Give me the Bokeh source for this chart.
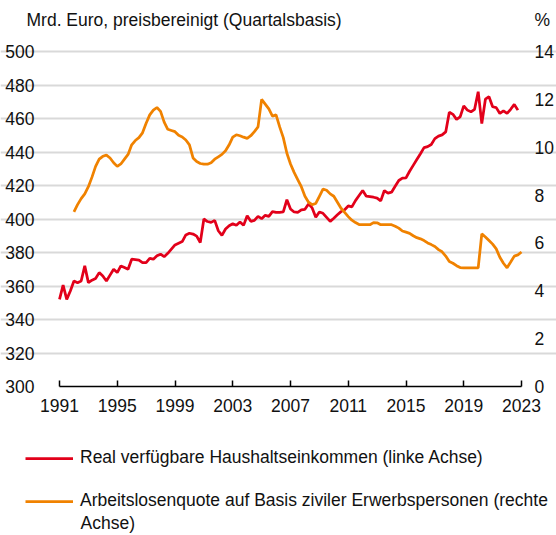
from bokeh.plotting import figure
from bokeh.models import (LinearAxis, Range1d, FixedTicker, Label, Legend, LegendItem)
from bokeh.embed import file_html
from bokeh.resources import INLINE

# ---- data ----
income_start_year = 1991  # quarterly, first quarter of 1991
income = [352, 360.5, 352, 357, 363, 362, 363, 372, 362, 363.5, 364.5, 368,
          366, 363, 366.5, 370, 368, 372, 371, 370, 376, 375.8, 375.5, 374,
          374, 376.5, 376, 378, 379, 377.5, 379.5, 382, 384.5, 385.5, 386.5, 390.5,
          391.5, 391, 389.8, 386, 400, 398.5, 398, 399.2, 393, 390.2, 394, 396,
          397.2, 396.2, 398.2, 396.2, 402, 398.6, 399.2, 401.6, 400.2, 402.2, 401.6, 404.4,
          404, 404, 404.2, 411.5, 406, 404.2, 404, 405.5, 405.8, 409, 406.6, 401,
          404.2, 403.4, 401, 398.6, 400.5, 402.5, 404.4, 405.5, 407.8, 407.2, 411, 414,
          417, 413.6, 413.4, 413, 412.5, 410.8, 417, 415.5, 416, 419.5, 423, 424.4,
          424.6, 428.5, 432, 435.5, 439, 442.6, 443.2, 444.5, 448, 449.5, 450.2, 452,
          463.8, 462.5, 459.5, 461, 467.5, 465, 464, 465.5, 476, 457, 471.5, 473,
          467, 466.5, 463, 464.5, 463, 465.5, 468.4, 465]

unemp_start_year = 1992  # quarterly, first quarter of 1992
unemployment = [7.3, 7.6, 7.85, 8.05, 8.35, 8.75, 9.2, 9.5, 9.62, 9.67, 9.55, 9.35,
                9.2, 9.3, 9.5, 9.7, 10.1, 10.28, 10.4, 10.6, 11.0, 11.35, 11.55, 11.66,
                11.5, 11.05, 10.75, 10.7, 10.65, 10.5, 10.43, 10.3, 10.1, 9.55, 9.4, 9.32,
                9.29, 9.29, 9.35, 9.5, 9.6, 9.7, 9.85, 10.1, 10.42, 10.52, 10.48, 10.42,
                10.37, 10.48, 10.65, 10.85, 12.0, 11.8, 11.6, 11.3, 11.35, 10.85, 10.4, 9.75,
                9.3, 8.95, 8.65, 8.35, 7.95, 7.7, 7.6, 7.65, 7.95, 8.25, 8.2, 8.05,
                7.95, 7.7, 7.45, 7.28, 7.1, 6.95, 6.85, 6.77, 6.76, 6.76, 6.76, 6.85,
                6.84, 6.76, 6.76, 6.76, 6.76, 6.7, 6.62, 6.5, 6.45, 6.4, 6.3, 6.22,
                6.17, 6.1, 6.0, 5.93, 5.85, 5.72, 5.63, 5.45, 5.22, 5.15, 5.05, 4.97,
                4.96, 4.96, 4.96, 4.96, 4.96, 6.38, 6.25, 6.1, 5.95, 5.75, 5.4, 5.15,
                4.96, 5.2, 5.45, 5.5, 5.62]

x_ticks = [1991, 1995, 1999, 2003, 2007, 2011, 2015, 2019, 2023]
left_ticks = [300, 320, 340, 360, 380, 400, 420, 440, 460, 480, 500]
right_ticks = [0, 2, 4, 6, 8, 10, 12, 14]

title_left = "Mrd. Euro, preisbereinigt (Quartalsbasis)"
title_right = "%"
label_income = "Real verfügbare Haushaltseinkommen (linke Achse)"
label_unemp_1 = "Arbeitslosenquote auf Basis ziviler Erwerbspersonen (rechte"
label_unemp_2 = "Achse)"

# ---- style / layout constants ----
RED = "#e2001a"
ORANGE = "#f08200"
FONT = "Liberation Sans"
FS = "17.5px"
TXT = "#111111"
W, H = 556, 535
PX_L, PX_R = 59, 521      # plot area left / right (canvas px)
PY_T, PY_B = 51, 386      # plot area top / bottom (canvas px, from top)

X0, X1 = x_ticks[0], x_ticks[-1]
L0, L1 = left_ticks[0], left_ticks[-1]
R0, R1 = right_ticks[0], right_ticks[-1]
xu = (X1 - X0) / (PX_R - PX_L)
lu = (L1 - L0) / (PY_B - PY_T)
ru = (R1 - R0) / (PY_B - PY_T)

p = figure(width=W, height=H, output_backend="svg", toolbar_location=None,
           x_range=Range1d(X0 - PX_L * xu, X1 + (W - PX_R) * xu),
           y_range=Range1d(L0 - (H - PY_B) * lu, L1 + PY_T * lu),
           min_border_left=0, min_border_right=0, min_border_top=0,
           min_border_bottom=0, y_axis_location=None, x_axis_location=None)
p.outline_line_color = None
p.background_fill_color = "white"
p.border_fill_color = "white"
p.extra_y_ranges = {"pct": Range1d(R0 - (H - PY_B) * ru, R1 + PY_T * ru)}

xa = LinearAxis(ticker=FixedTicker(ticks=x_ticks), fixed_location=L0, bounds=(X0, X1))
xa.axis_line_color = "black"
xa.axis_line_width = 1.5
xa.major_tick_in = 6
xa.major_tick_out = 0
xa.major_tick_line_color = "black"
xa.major_tick_line_width = 1.5
xa.minor_tick_line_color = None
xa.major_label_standoff = 12
xa.major_label_text_font = FONT
xa.major_label_text_font_size = FS
xa.major_label_text_color = TXT
p.add_layout(xa, "below")

ya = LinearAxis(ticker=FixedTicker(ticks=left_ticks), fixed_location=X0, bounds=(L0, L1))
ya.axis_line_color = None
ya.major_tick_line_color = None
ya.minor_tick_line_color = None
ya.major_label_standoff = 19
ya.major_label_text_font = FONT
ya.major_label_text_font_size = FS
ya.major_label_text_color = TXT
p.add_layout(ya, "left")

ra = LinearAxis(y_range_name="pct", ticker=FixedTicker(ticks=right_ticks),
                fixed_location=X1, bounds=(R0, R1))
ra.axis_line_color = None
ra.major_tick_line_color = None
ra.minor_tick_line_color = None
ra.major_label_standoff = 7
ra.major_label_text_font = FONT
ra.major_label_text_font_size = FS
ra.major_label_text_color = TXT
p.add_layout(ra, "right")

p.xgrid.grid_line_color = None
p.ygrid.ticker = FixedTicker(ticks=left_ticks[1:])
p.ygrid.bounds = (X0, X1)
p.ygrid.grid_line_color = "#d9d9d9"
p.ygrid.grid_line_width = 2

x_income = [income_start_year + i / 4 for i in range(len(income))]
x_unemp = [unemp_start_year + i / 4 for i in range(len(unemployment))]
r_inc = p.line(x_income, income, line_color=RED, line_width=2.75)
r_une = p.line(x_unemp, unemployment, line_color=ORANGE, line_width=2.75, y_range_name="pct")

legend = Legend(items=[LegendItem(label=label_income, renderers=[r_inc]),
                       LegendItem(label=label_unemp_1, renderers=[r_une])],
                location=(25, 24), orientation="vertical",
                glyph_width=48, glyph_height=20, label_height=20,
                label_standoff=7, spacing=22, padding=0, margin=0,
                border_line_alpha=0, background_fill_alpha=0,
                label_text_font=FONT, label_text_font_size=FS,
                label_text_color=TXT)
p.add_layout(legend, "center")

p.add_layout(Label(x=26, y=H - 19, x_units="screen", y_units="screen", text=title_left,
                   text_font=FONT, text_font_size=FS, text_color=TXT,
                   text_baseline="middle"))
p.add_layout(Label(x=534, y=H - 19, x_units="screen", y_units="screen", text=title_right,
                   text_font=FONT, text_font_size=FS, text_color=TXT,
                   text_baseline="middle"))
p.add_layout(Label(x=80, y=H - 522, x_units="screen", y_units="screen", text=label_unemp_2,
                   text_font=FONT, text_font_size=FS, text_color=TXT,
                   text_baseline="middle"))

open("out.html", "w").write(file_html(p, INLINE))
